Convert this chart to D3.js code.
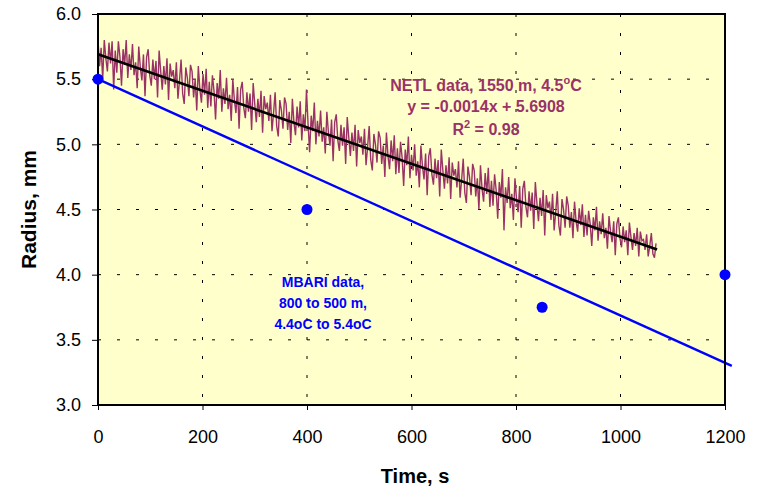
<!DOCTYPE html>
<html>
<head>
<meta charset="utf-8">
<script src="https://cdn.jsdelivr.net/npm/d3@7"></script>
<style>
  body { margin: 0; background: #fff; }
  svg { font-family: "Liberation Sans", Arial, sans-serif; }
</style>
</head>
<body>
<svg width="757" height="487"></svg>
<script>
// NETL radius readings, one every 3 s from t = 0
var netlStep = 3;
var netlRadius = [
  5.80, 5.60, 5.74, 5.50, 5.80, 5.66, 5.56, 5.78, 5.62, 5.79, 5.42, 5.72,
  5.55, 5.79, 5.67, 5.45, 5.73, 5.61, 5.80, 5.51, 5.69, 5.57, 5.77, 5.53,
  5.63, 5.43, 5.75, 5.59, 5.49, 5.69, 5.37, 5.67, 5.73, 5.53, 5.45, 5.65,
  5.50, 5.64, 5.36, 5.72, 5.56, 5.42, 5.60, 5.46, 5.66, 5.34, 5.62, 5.52,
  5.57, 5.43, 5.63, 5.35, 5.49, 5.65, 5.39, 5.31, 5.59, 5.51, 5.37, 5.61,
  5.56, 5.36, 5.50, 5.26, 5.60, 5.42, 5.32, 5.54, 5.38, 5.58, 5.28, 5.48,
  5.29, 5.53, 5.41, 5.19, 5.47, 5.35, 5.57, 5.25, 5.43, 5.31, 5.51, 5.27,
  5.38, 5.18, 5.50, 5.34, 5.24, 5.44, 5.12, 5.42, 5.48, 5.28, 5.20, 5.40,
  5.25, 5.39, 5.11, 5.47, 5.31, 5.17, 5.35, 5.21, 5.41, 5.09, 5.37, 5.27,
  5.32, 5.18, 5.38, 5.10, 5.24, 5.40, 5.14, 5.06, 5.34, 5.26, 5.12, 5.36,
  5.31, 5.11, 5.25, 5.01, 5.35, 5.17, 5.07, 5.29, 5.13, 5.33, 5.03, 5.23,
  5.10, 5.42, 5.16, 4.94, 5.22, 5.10, 5.32, 5.00, 5.18, 5.06, 5.26, 5.02,
  5.13, 4.93, 5.25, 5.09, 4.99, 5.19, 4.87, 5.17, 5.23, 5.03, 4.95, 5.15,
  4.99, 5.13, 4.85, 5.21, 5.05, 4.91, 5.09, 4.95, 5.15, 4.83, 5.11, 5.01,
  5.06, 4.92, 5.12, 4.84, 4.98, 5.14, 4.88, 4.80, 5.08, 5.00, 4.86, 5.10,
  5.05, 4.85, 4.99, 4.75, 5.09, 4.91, 4.81, 5.03, 4.87, 5.07, 4.77, 4.97,
  4.78, 5.02, 4.90, 4.68, 4.96, 4.84, 5.06, 4.74, 4.92, 4.80, 5.00, 4.76,
  4.87, 4.67, 4.99, 4.83, 4.73, 4.93, 4.61, 4.91, 4.97, 4.77, 4.69, 4.89,
  4.74, 4.88, 4.60, 4.96, 4.80, 4.66, 4.84, 4.70, 4.90, 4.58, 4.86, 4.76,
  4.81, 4.67, 4.87, 4.59, 4.73, 4.89, 4.63, 4.55, 4.83, 4.75, 4.61, 4.85,
  4.80, 4.60, 4.74, 4.50, 4.84, 4.66, 4.56, 4.78, 4.62, 4.82, 4.52, 4.72,
  4.53, 4.77, 4.65, 4.43, 4.71, 4.59, 4.81, 4.34, 4.67, 4.55, 4.75, 4.51,
  4.62, 4.42, 4.74, 4.58, 4.48, 4.68, 4.36, 4.66, 4.72, 4.52, 4.44, 4.64,
  4.49, 4.63, 4.35, 4.71, 4.55, 4.41, 4.59, 4.45, 4.65, 4.30, 4.61, 4.51,
  4.56, 4.42, 4.62, 4.34, 4.48, 4.64, 4.38, 4.30, 4.58, 4.50, 4.36, 4.60,
  4.53, 4.36, 4.48, 4.28, 4.56, 4.41, 4.33, 4.51, 4.38, 4.54, 4.29, 4.46,
  4.30, 4.49, 4.39, 4.22, 4.44, 4.34, 4.52, 4.26, 4.41, 4.31, 4.47, 4.28,
  4.36, 4.20, 4.45, 4.33, 4.25, 4.41, 4.15, 4.39, 4.44, 4.28, 4.21, 4.37,
  4.25, 4.34, 4.15, 4.40, 4.29, 4.19, 4.32, 4.22, 4.36, 4.14, 4.33, 4.26,
  4.27, 4.19, 4.31, 4.14, 4.22, 4.32, 4.16, 4.13, 4.24
];

// linear fit drawn over the NETL data (y = -0.0014x + 5.6908)
var netlFitTime = [0, 1070];
var netlFitRadius = [5.6908, 4.193];

// MBARI points and their fitted line
var mbariTime = [0, 400, 850, 1200];
var mbariRadius = [5.5, 4.5, 3.75, 4.0];
var mbariFitTime = [0, 1213];
var mbariFitRadius = [5.5, 3.30];

var xTicks = [0, 200, 400, 600, 800, 1000, 1200];
var yTicks = [3.0, 3.5, 4.0, 4.5, 5.0, 5.5, 6.0];

var svg = d3.select("svg"),
    margin = { top: 14, right: 32, bottom: 82, left: 98 },
    width = +svg.attr("width") - margin.left - margin.right,
    height = +svg.attr("height") - margin.top - margin.bottom,
    g = svg.append("g").attr("transform", "translate(" + margin.left + "," + margin.top + ")");

var x = d3.scaleLinear().domain([0, 1200]).range([0, width]);
var y = d3.scaleLinear().domain([3, 6]).range([height, 0]);

// plot background
g.append("rect")
    .attr("width", width)
    .attr("height", height)
    .attr("fill", "#FFFFCC");

// dashed grid
g.selectAll(".gx").data(xTicks.slice(1, -1)).enter().append("line")
    .attr("x1", d => x(d)).attr("x2", d => x(d))
    .attr("y1", 0).attr("y2", height)
    .attr("stroke", "#000").attr("stroke-width", 1)
    .attr("stroke-dasharray", "3,16");
g.selectAll(".gy").data(yTicks.slice(1, -1)).enter().append("line")
    .attr("y1", d => y(d)).attr("y2", d => y(d))
    .attr("x1", 0).attr("x2", width)
    .attr("stroke", "#000").attr("stroke-width", 1)
    .attr("stroke-dasharray", "3,16");

// axes
var axisX = g.append("g")
    .attr("transform", "translate(0," + height + ")")
    .call(d3.axisBottom(x).tickValues(xTicks).tickSize(5).tickPadding(20).tickFormat(d3.format("d")));
var axisY = g.append("g")
    .call(d3.axisLeft(y).tickValues(yTicks).tickSize(6).tickPadding(11).tickFormat(d3.format(".1f")));
[axisX, axisY].forEach(a => {
    a.select(".domain").remove();
    a.selectAll("text").attr("font-size", 18).attr("fill", "#000")
        .attr("font-family", "Liberation Sans, Arial, sans-serif");
    a.selectAll("line").attr("stroke", "#000");
});

// NETL data
var netlLine = d3.line()
    .x((d, i) => x(i * netlStep))
    .y(d => y(d));
g.append("path")
    .datum(netlRadius)
    .attr("fill", "none")
    .attr("stroke", "#993366")
    .attr("stroke-width", 1.4)
    .attr("d", netlLine);

var fitLine = d3.line().x(d => x(d[0])).y(d => y(d[1]));
g.append("path")
    .datum(d3.zip(netlFitTime, netlFitRadius))
    .attr("fill", "none")
    .attr("stroke", "#000")
    .attr("stroke-width", 2.6)
    .attr("d", fitLine);

g.append("path")
    .datum(d3.zip(mbariFitTime, mbariFitRadius))
    .attr("fill", "none")
    .attr("stroke", "#0000FF")
    .attr("stroke-width", 2.4)
    .attr("d", fitLine);

// plot frame
g.append("rect")
    .attr("width", width)
    .attr("height", height)
    .attr("fill", "none")
    .attr("stroke", "#000")
    .attr("stroke-width", 2);

g.selectAll(".mb").data(d3.zip(mbariTime, mbariRadius)).enter().append("circle")
    .attr("cx", d => x(d[0]))
    .attr("cy", d => y(d[1]))
    .attr("r", 5.5)
    .attr("fill", "#0000FF");

// annotations
var netlText = g.append("text")
    .attr("text-anchor", "middle")
    .attr("font-size", 16)
    .attr("font-weight", "bold")
    .attr("fill", "#993366");
var t1 = netlText.append("tspan").attr("x", 388).attr("y", 77).text("NETL data, 1550 m, 4.5");
t1.append("tspan").attr("font-size", 11).attr("dy", -7).text("o");
t1.append("tspan").attr("dy", 7).text("C");
netlText.append("tspan").attr("x", 388).attr("y", 98).text("y = -0.0014x + 5.6908");
var t3 = netlText.append("tspan").attr("x", 388).attr("y", 121).text("R");
t3.append("tspan").attr("font-size", 11).attr("dy", -7).text("2");
t3.append("tspan").attr("dy", 7).text(" = 0.98");

var mbText = g.append("text")
    .attr("text-anchor", "middle")
    .attr("font-size", 14)
    .attr("font-weight", "bold")
    .attr("fill", "#0000FF");
["MBARI data,", "800 to 500 m,", "4.4oC to 5.4oC"].forEach((s, i) => {
    mbText.append("tspan").attr("x", 225).attr("y", 273 + i * 21).text(s);
});

// axis titles
svg.append("text")
    .attr("x", 415)
    .attr("y", 483)
    .attr("text-anchor", "middle")
    .attr("font-size", 20)
    .attr("font-weight", "bold")
    .text("Time, s");
svg.append("text")
    .attr("transform", "translate(36," + (margin.top + height / 2) + ") rotate(-90)")
    .attr("text-anchor", "middle")
    .attr("font-size", 21)
    .attr("font-weight", "bold")
    .text("Radius, mm");
</script>
</body>
</html>
